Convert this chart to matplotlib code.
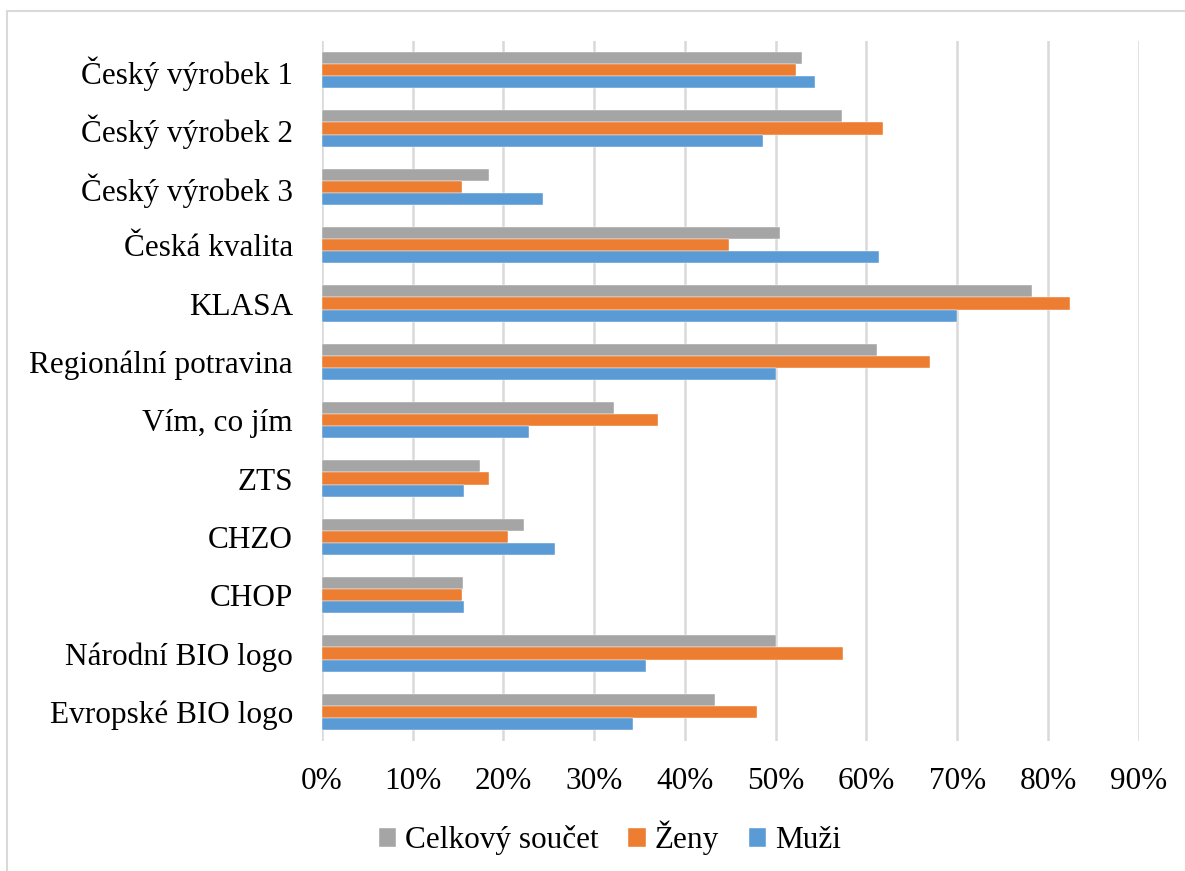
import matplotlib.pyplot as plt
import matplotlib.patches as patches
import numpy as np

kategorie = ["Český výrobek 1", "Český výrobek 2", "Český výrobek 3", "Česká kvalita",
             "KLASA", "Regionální potravina", "Vím, co jím", "ZTS", "CHZO", "CHOP",
             "Národní BIO logo", "Evropské BIO logo"]
celkem = [52.9, 57.3, 18.4, 50.5, 78.2, 61.2, 32.2, 17.4, 22.3, 15.5, 50.0, 43.3]
zeny = [52.2, 61.8, 15.4, 44.9, 82.4, 67.0, 37.0, 18.4, 20.5, 15.4, 57.4, 47.9]
muzi = [54.3, 48.6, 24.3, 61.4, 70.0, 50.0, 22.8, 15.7, 25.7, 15.7, 35.7, 34.3]

serie = [("Celkový součet", celkem, "#A5A5A5"),
         ("Ženy", zeny, "#ED7D31"),
         ("Muži", muzi, "#5B9BD5")]

plt.rcParams["font.family"] = ["Liberation Serif", "DejaVu Serif"]

fig = plt.figure(figsize=(11.85, 8.71), dpi=100)
ax = fig.add_axes([322/1185, 1 - 741/871, (1138.7 - 322)/1185, 700/871])

y = np.arange(len(kategorie))
h = 0.206
for k, (navn, verdier, farge) in enumerate(serie):
    ax.barh(y + (k - 1) * h, verdier, height=h, color=farge, label=navn,
            edgecolor="white", linewidth=0.3, zorder=3)

ax.set_xlim(0, 90)
ax.set_ylim(len(kategorie) - 0.5, -0.5)
ax.set_xticks(np.arange(0, 91, 10))
ax.set_xticklabels([f"{v}%" for v in range(0, 91, 10)])
ax.set_yticks(y)
ax.set_yticklabels(kategorie)
ax.tick_params(axis="both", length=0, labelsize=22.5, colors="black")
ax.tick_params(axis="x", pad=19)
ax.tick_params(axis="y", pad=21)
ax.grid(axis="x", color="#D9D9D9", linewidth=1.8, zorder=0)
for s in ax.spines.values():
    s.set_visible(False)

handles, labels = ax.get_legend_handles_labels()
leg = fig.legend(handles, labels, loc="center", bbox_to_anchor=(610/1185, 1 - 838/871),
                 ncol=3, frameon=False, fontsize=22.5, handlelength=0.55,
                 handleheight=0.55, handletextpad=0.3, columnspacing=0.95)

fig.patches.append(patches.Rectangle((7/1185, -0.05), 1.1, 1 - 11/871 + 0.05,
                                     transform=fig.transFigure, fill=False,
                                     edgecolor="#D9D9D9", linewidth=1.5))

plt.savefig("out.png", dpi=100)
